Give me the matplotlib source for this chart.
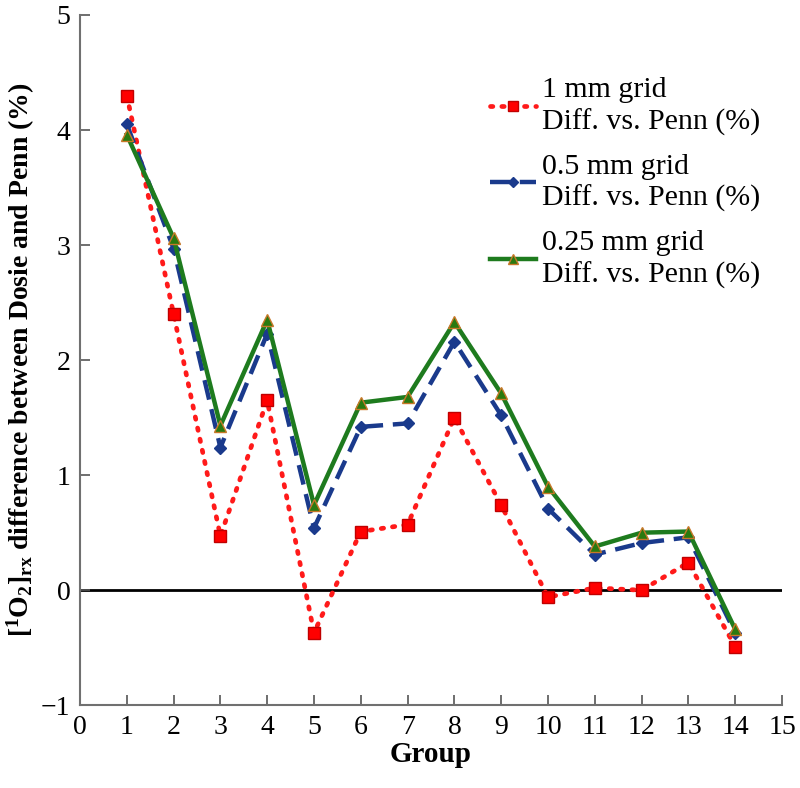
import matplotlib.pyplot as plt
import numpy as np

plt.rcParams['font.family'] = ['Liberation Serif', 'DejaVu Serif']
plt.rcParams['mathtext.fontset'] = 'custom'
plt.rcParams['mathtext.rm'] = 'Liberation Serif:bold'
plt.rcParams['mathtext.bf'] = 'Liberation Serif:bold'
plt.rcParams['mathtext.it'] = 'Liberation Serif:bold'

# data
groups = list(range(1, 15))
grid_1mm = [4.30, 2.40, 0.47, 1.65, -0.37, 0.51, 0.57, 1.50, 0.74, -0.06, 0.02, 0.00, 0.24, -0.49]
grid_05mm = [4.05, 2.97, 1.24, 2.23, 0.54, 1.42, 1.45, 2.16, 1.52, 0.71, 0.31, 0.41, 0.46, -0.37]
grid_025mm = [3.96, 3.06, 1.43, 2.35, 0.74, 1.63, 1.68, 2.33, 1.71, 0.90, 0.38, 0.50, 0.51, -0.34]
labels = ["1 mm grid\nDiff. vs. Penn (%)",
          "0.5 mm grid\nDiff. vs. Penn (%)",
          "0.25 mm grid\nDiff. vs. Penn (%)"]

fig = plt.figure(figsize=(8, 7.88), dpi=100)
ax = fig.add_axes([0.1, 0.105, 0.8775, 0.876])

ax.axhline(0, color="black", linewidth=2, zorder=1)

ax.plot(groups, grid_1mm, linestyle=(0, (0.5, 1.9)), dash_capstyle="round",
        color="#ff1a1a", linewidth=3.4, marker="s", markersize=9,
        markerfacecolor="#ff0000", markeredgecolor="#c00000", markeredgewidth=1,
        label=labels[0], zorder=3)
ax.plot(groups, grid_05mm, linestyle=(0, (4.5, 2.2)),
        color="#1a3a8c", linewidth=3.2, marker="D", markersize=6.5,
        markerfacecolor="#1a3a8c", markeredgecolor="#1a3a8c",
        label=labels[1], zorder=4)
ax.plot(groups, grid_025mm, linestyle="-",
        color="#1e7b1e", linewidth=3.2, marker="^", markersize=9,
        markerfacecolor="#2a7a10", markeredgecolor="#c87828", markeredgewidth=1,
        label=labels[2], zorder=5)

ax.set_xlim(0, 15)
ax.set_ylim(-1, 5)
ax.set_xticks(np.arange(0, 16, 1))
ax.set_yticks(np.arange(-1, 6, 1))
ax.set_yticklabels(["\u22121", "0", "1", "2", "3", "4", "5"])

for side in ["top", "right"]:
    ax.spines[side].set_visible(False)
for side in ["left", "bottom"]:
    ax.spines[side].set_color("#707070")
    ax.spines[side].set_linewidth(1.5)

ax.tick_params(direction="in", length=7, width=1.2, color="#555555",
               labelsize=20, pad=7)

ax.set_xlabel("Group", fontsize=21, fontweight="bold", labelpad=1)
ax.set_ylabel(r"[$^{1}$O$_{2}$]$_{rx}$ difference between Dosie and Penn (%)",
              fontsize=20, fontweight="bold", labelpad=3)

leg = ax.legend(loc="upper left", bbox_to_anchor=(0.584, 0.91), frameon=False,
                fontsize=21.5, handlelength=1.55, handletextpad=0.2,
                labelspacing=0.6, borderaxespad=0, borderpad=0,
                markerscale=0.75)
for t in leg.get_texts():
    t.set_linespacing(1.25)

fig.savefig("out.png", dpi=100)
